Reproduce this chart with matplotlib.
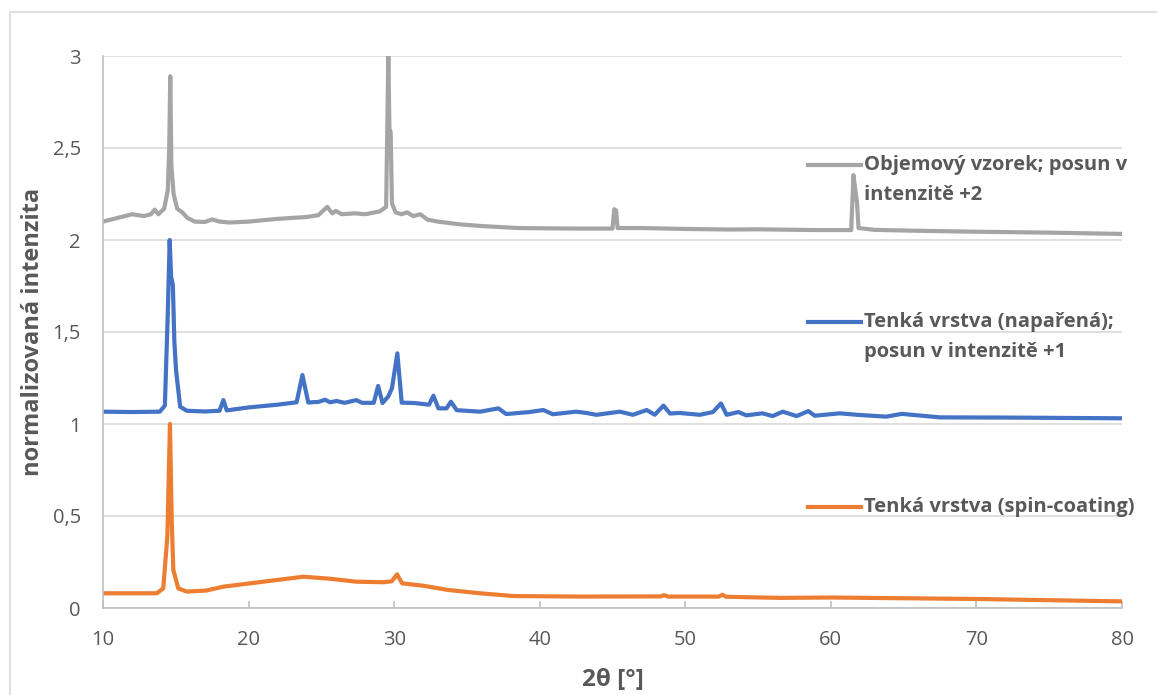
import matplotlib
matplotlib.use("Agg")
import matplotlib.pyplot as plt
from matplotlib.patches import Rectangle
from matplotlib.ticker import FuncFormatter, MultipleLocator

plt.rcParams['font.family'] = ['Open Sans', 'DejaVu Sans']

# XRD patterns, normalized intensity
gray_x = [10.0, 11.0, 12.0, 12.8, 13.3, 13.55, 13.8, 14.2, 14.45, 14.55, 14.62, 14.7,
          14.85, 15.1, 15.45, 15.8, 16.3, 17.0, 17.5, 18.0, 18.7, 20.0, 22.0, 24.0,
          24.8, 25.4, 25.75, 26.0, 26.4, 27.3, 28.0, 29.0, 29.45, 29.6, 29.68, 29.76,
          29.85, 30.1, 30.5, 30.9, 31.3, 31.8, 32.3, 33.0, 34.5, 36.0, 38.5, 41.0,
          43.0, 45.0, 45.12, 45.25, 45.35, 47.0, 50.0, 53.0, 55.0, 57.0, 59.0, 61.4,
          61.55, 61.7, 61.8, 61.9, 63.0, 66.0, 70.0, 75.0, 80.0]
gray_y = [0.100, 0.120, 0.140, 0.130, 0.140, 0.165, 0.140, 0.170, 0.270, 0.500, 0.890, 0.400,
          0.250, 0.170, 0.150, 0.120, 0.100, 0.098, 0.112, 0.100, 0.095, 0.100, 0.115, 0.125,
          0.135, 0.180, 0.145, 0.158, 0.140, 0.145, 0.140, 0.155, 0.180, 1.000, 0.590, 0.590,
          0.200, 0.150, 0.140, 0.150, 0.130, 0.140, 0.110, 0.100, 0.085, 0.076, 0.065, 0.063,
          0.062, 0.062, 0.167, 0.160, 0.065, 0.065, 0.060, 0.057, 0.058, 0.056, 0.054, 0.054,
          0.353, 0.260, 0.200, 0.065, 0.055, 0.050, 0.045, 0.040, 0.033]

blue_x = [10.0, 12.0, 13.9, 14.25, 14.45, 14.58, 14.68, 14.8, 14.9, 15.02, 15.3, 15.75,
          17.0, 18.0, 18.27, 18.5, 20.0, 22.0, 23.3, 23.7, 24.1, 24.8, 25.25, 25.6,
          26.05, 26.6, 27.4, 27.8, 28.6, 28.9, 29.2, 29.6, 29.85, 30.22, 30.52, 31.4,
          32.4, 32.7, 33.04, 33.6, 33.9, 34.3, 35.9, 37.16, 37.7, 39.3, 40.25, 40.9,
          42.5, 43.2, 43.9, 45.5, 46.4, 47.35, 47.9, 48.5, 48.95, 49.6, 51.0, 51.9,
          52.45, 52.84, 53.65, 54.2, 55.3, 56.0, 56.7, 57.65, 58.45, 58.9, 60.6, 61.8,
          63.8, 64.86, 67.5, 72.0, 76.0, 80.0]
blue_y = [0.067, 0.065, 0.067, 0.100, 0.600, 1.000, 0.800, 0.755, 0.450, 0.290, 0.094, 0.072,
          0.068, 0.072, 0.130, 0.074, 0.090, 0.105, 0.118, 0.266, 0.117, 0.120, 0.132, 0.118,
          0.125, 0.115, 0.130, 0.115, 0.115, 0.207, 0.114, 0.150, 0.194, 0.384, 0.116, 0.114,
          0.105, 0.154, 0.085, 0.085, 0.121, 0.075, 0.067, 0.085, 0.054, 0.065, 0.076, 0.053,
          0.067, 0.060, 0.050, 0.067, 0.050, 0.076, 0.050, 0.100, 0.057, 0.060, 0.050, 0.065,
          0.112, 0.050, 0.065, 0.047, 0.058, 0.043, 0.067, 0.043, 0.070, 0.045, 0.058, 0.050,
          0.040, 0.055, 0.036, 0.035, 0.033, 0.031]

orange_x = [10.0, 13.7, 14.14, 14.42, 14.6, 14.72, 14.83, 15.17, 15.75, 17.1, 18.27, 20.1,
            21.93, 23.76, 25.6, 27.4, 29.26, 29.83, 30.2, 30.55, 32.0, 33.7, 35.9, 38.2,
            42.8, 48.3, 48.55, 48.8, 52.3, 52.55, 52.8, 56.5, 60.0, 70.0, 80.0]
orange_y = [0.080, 0.080, 0.107, 0.390, 1.000, 0.480, 0.207, 0.107, 0.089, 0.095, 0.116, 0.134,
            0.152, 0.170, 0.159, 0.143, 0.140, 0.145, 0.183, 0.134, 0.121, 0.098, 0.080, 0.065,
            0.062, 0.063, 0.070, 0.062, 0.062, 0.072, 0.061, 0.055, 0.057, 0.049, 0.036]

gray_shift = 2
blue_shift = 1

label_gray = ["Objemový vzorek; posun v", "intenzitě +2"]
label_blue = ["Tenká vrstva (napařená);", "posun v intenzitě +1"]
label_orange = ["Tenká vrstva (spin-coating)"]

c_gray = "#A5A5A5"
c_blue = "#4472C4"
c_orange = "#ED7D31"
txt = "#595959"

fig = plt.figure(figsize=(11.57, 6.95), dpi=100)
ax = fig.add_axes([103 / 1157, 87 / 695, 1019 / 1157, 552 / 695])

lw = 3.0
ax.plot(orange_x, orange_y, color=c_orange, lw=lw, solid_joinstyle='round')
ax.plot(blue_x, [v + blue_shift for v in blue_y], color=c_blue, lw=lw, solid_joinstyle='round')
ax.plot(gray_x, [v + gray_shift for v in gray_y], color=c_gray, lw=lw, solid_joinstyle='round')

ax.set_xlim(10, 80)
ax.set_ylim(0, 3)
ax.xaxis.set_major_locator(MultipleLocator(10))
ax.yaxis.set_major_locator(MultipleLocator(0.5))
ax.yaxis.set_major_formatter(FuncFormatter(lambda v, p: f"{v:g}".replace(".", ",")))

ax.grid(axis='y', color="#D9D9D9", lw=1.2)
ax.set_axisbelow(True)
for s in ['top', 'right']:
    ax.spines[s].set_visible(False)
ax.spines['left'].set_color("#BFBFBF")
ax.spines['bottom'].set_color("#BFBFBF")
ax.spines['left'].set_linewidth(1.2)
ax.spines['bottom'].set_linewidth(1.2)
ax.tick_params(axis='x', direction='in', length=5, width=1.2, color="#BFBFBF",
               labelsize=14.5, labelcolor=txt, pad=16)
ax.tick_params(axis='y', length=0, labelsize=14.5, labelcolor=txt, pad=16)

ax.set_xlabel("2θ [°]", fontsize=17.5, fontweight='bold', color=txt, labelpad=13)
ax.set_ylabel("normalizovaná intenzita", fontsize=17, fontweight='bold', color=txt, labelpad=5)

# legend entries placed beside the curves, as in the original
entries = [(c_gray, label_gray, 0.8025), (c_blue, label_blue, 0.518), (c_orange, label_orange, 0.183)]
hx0, hx1, tx = 0.692, 0.744, 0.747
for col, lines, fy in entries:
    ax.plot([hx0, hx1], [fy, fy], color=col, lw=3.0, transform=ax.transAxes, clip_on=False)
    for i, line in enumerate(lines):
        ax.text(tx, fy - i * 30 / 552, line, transform=ax.transAxes, ha='left', va='center',
                fontsize=14.5, fontweight='bold', color=txt)

# chart area border
fig.patches.append(Rectangle((10 / 1157, -0.1), 1.2, (695 - 12) / 695 + 0.1, transform=fig.transFigure,
                             fill=False, edgecolor="#D9D9D9", lw=1.2))

fig.savefig("out.png", dpi=100, facecolor="white")
